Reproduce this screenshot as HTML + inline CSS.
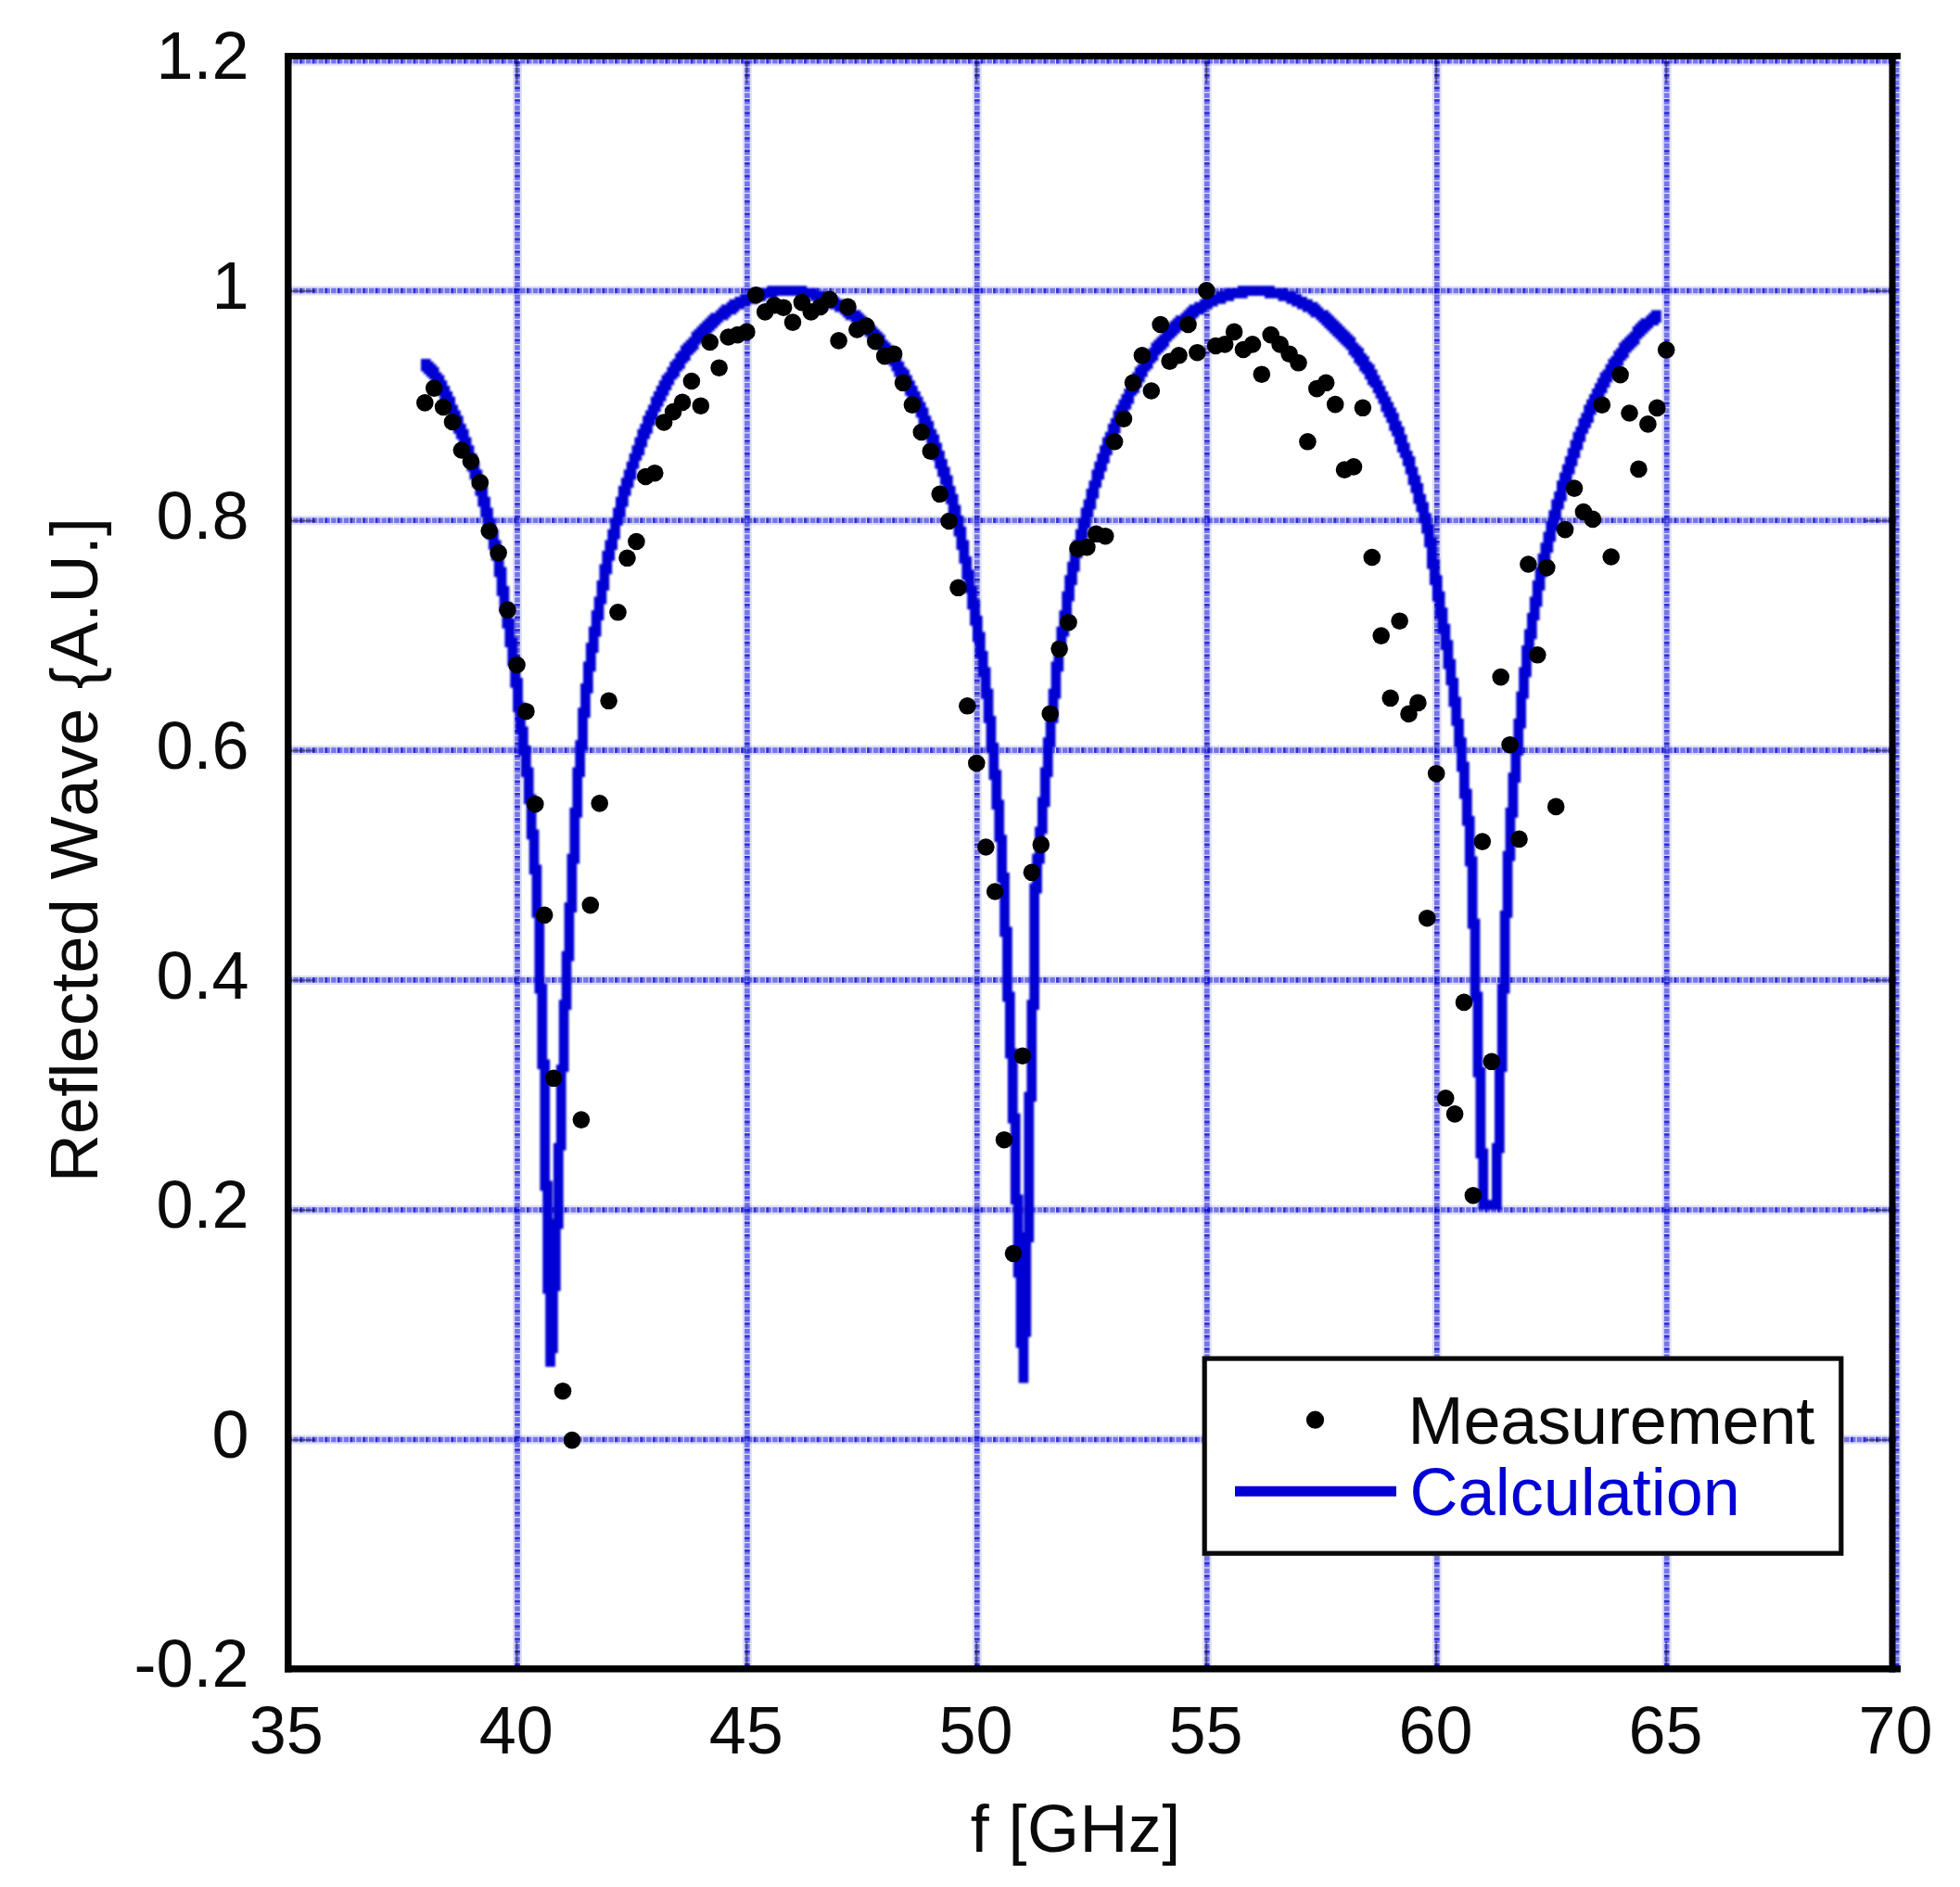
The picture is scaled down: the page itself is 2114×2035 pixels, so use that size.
<!DOCTYPE html>
<html lang="en"><head><meta charset="utf-8"><title>Reflected Wave vs f</title>
<style>html,body{margin:0;padding:0;background:#fff}svg{display:block}text{font-kerning:none;font-family:"Liberation Sans",Arial,sans-serif;font-size:72px;fill:#0a0a0a}</style></head><body>
<svg width="2114" height="2035" viewBox="0 0 2114 2035">
<rect width="2114" height="2035" fill="#fff"/>
<g id="grid" fill="none">
<line x1="558.0" y1="66.2" x2="558.0" y2="1800.5" stroke="#0000d0" stroke-opacity=".13" stroke-width="10"/>
<line x1="558.0" y1="66.2" x2="558.0" y2="1800.5" stroke="#0000d0" stroke-opacity=".47" stroke-width="5.6" stroke-dasharray="5.6 1.2"/>
<line x1="558.0" y1="66.2" x2="558.0" y2="1800.5" stroke="#0000d0" stroke-opacity=".6" stroke-width="5.6" stroke-dasharray="2.6 11"/>
<line x1="805.9" y1="66.2" x2="805.9" y2="1800.5" stroke="#0000d0" stroke-opacity=".13" stroke-width="10"/>
<line x1="805.9" y1="66.2" x2="805.9" y2="1800.5" stroke="#0000d0" stroke-opacity=".47" stroke-width="5.6" stroke-dasharray="5.6 1.2"/>
<line x1="805.9" y1="66.2" x2="805.9" y2="1800.5" stroke="#0000d0" stroke-opacity=".6" stroke-width="5.6" stroke-dasharray="2.6 11"/>
<line x1="1053.8" y1="66.2" x2="1053.8" y2="1800.5" stroke="#0000d0" stroke-opacity=".13" stroke-width="10"/>
<line x1="1053.8" y1="66.2" x2="1053.8" y2="1800.5" stroke="#0000d0" stroke-opacity=".47" stroke-width="5.6" stroke-dasharray="5.6 1.2"/>
<line x1="1053.8" y1="66.2" x2="1053.8" y2="1800.5" stroke="#0000d0" stroke-opacity=".6" stroke-width="5.6" stroke-dasharray="2.6 11"/>
<line x1="1301.8" y1="66.2" x2="1301.8" y2="1800.5" stroke="#0000d0" stroke-opacity=".13" stroke-width="10"/>
<line x1="1301.8" y1="66.2" x2="1301.8" y2="1800.5" stroke="#0000d0" stroke-opacity=".47" stroke-width="5.6" stroke-dasharray="5.6 1.2"/>
<line x1="1301.8" y1="66.2" x2="1301.8" y2="1800.5" stroke="#0000d0" stroke-opacity=".6" stroke-width="5.6" stroke-dasharray="2.6 11"/>
<line x1="1549.8" y1="66.2" x2="1549.8" y2="1800.5" stroke="#0000d0" stroke-opacity=".13" stroke-width="10"/>
<line x1="1549.8" y1="66.2" x2="1549.8" y2="1800.5" stroke="#0000d0" stroke-opacity=".47" stroke-width="5.6" stroke-dasharray="5.6 1.2"/>
<line x1="1549.8" y1="66.2" x2="1549.8" y2="1800.5" stroke="#0000d0" stroke-opacity=".6" stroke-width="5.6" stroke-dasharray="2.6 11"/>
<line x1="1797.7" y1="66.2" x2="1797.7" y2="1800.5" stroke="#0000d0" stroke-opacity=".13" stroke-width="10"/>
<line x1="1797.7" y1="66.2" x2="1797.7" y2="1800.5" stroke="#0000d0" stroke-opacity=".47" stroke-width="5.6" stroke-dasharray="5.6 1.2"/>
<line x1="1797.7" y1="66.2" x2="1797.7" y2="1800.5" stroke="#0000d0" stroke-opacity=".6" stroke-width="5.6" stroke-dasharray="2.6 11"/>
<line x1="2045.7" y1="66.2" x2="2045.7" y2="1800.5" stroke="#0000d0" stroke-opacity=".13" stroke-width="10"/>
<line x1="2045.7" y1="66.2" x2="2045.7" y2="1800.5" stroke="#0000d0" stroke-opacity=".47" stroke-width="5.6" stroke-dasharray="5.6 1.2"/>
<line x1="2045.7" y1="66.2" x2="2045.7" y2="1800.5" stroke="#0000d0" stroke-opacity=".6" stroke-width="5.6" stroke-dasharray="2.6 11"/>
<line x1="309.5" y1="65.7" x2="2045.5" y2="65.7" stroke="#0000d0" stroke-opacity=".13" stroke-width="10"/>
<line x1="309.5" y1="65.7" x2="2045.5" y2="65.7" stroke="#0000d0" stroke-opacity=".47" stroke-width="5.6" stroke-dasharray="5.6 1.2"/>
<line x1="309.5" y1="65.7" x2="2045.5" y2="65.7" stroke="#0000d0" stroke-opacity=".6" stroke-width="5.6" stroke-dasharray="2.6 11"/>
<line x1="309.5" y1="313.5" x2="2045.5" y2="313.5" stroke="#0000d0" stroke-opacity=".13" stroke-width="10"/>
<line x1="309.5" y1="313.5" x2="2045.5" y2="313.5" stroke="#0000d0" stroke-opacity=".47" stroke-width="5.6" stroke-dasharray="5.6 1.2"/>
<line x1="309.5" y1="313.5" x2="2045.5" y2="313.5" stroke="#0000d0" stroke-opacity=".6" stroke-width="5.6" stroke-dasharray="2.6 11"/>
<line x1="309.5" y1="561.3" x2="2045.5" y2="561.3" stroke="#0000d0" stroke-opacity=".13" stroke-width="10"/>
<line x1="309.5" y1="561.3" x2="2045.5" y2="561.3" stroke="#0000d0" stroke-opacity=".47" stroke-width="5.6" stroke-dasharray="5.6 1.2"/>
<line x1="309.5" y1="561.3" x2="2045.5" y2="561.3" stroke="#0000d0" stroke-opacity=".6" stroke-width="5.6" stroke-dasharray="2.6 11"/>
<line x1="309.5" y1="809.1" x2="2045.5" y2="809.1" stroke="#0000d0" stroke-opacity=".13" stroke-width="10"/>
<line x1="309.5" y1="809.1" x2="2045.5" y2="809.1" stroke="#0000d0" stroke-opacity=".47" stroke-width="5.6" stroke-dasharray="5.6 1.2"/>
<line x1="309.5" y1="809.1" x2="2045.5" y2="809.1" stroke="#0000d0" stroke-opacity=".6" stroke-width="5.6" stroke-dasharray="2.6 11"/>
<line x1="309.5" y1="1056.9" x2="2045.5" y2="1056.9" stroke="#0000d0" stroke-opacity=".13" stroke-width="10"/>
<line x1="309.5" y1="1056.9" x2="2045.5" y2="1056.9" stroke="#0000d0" stroke-opacity=".47" stroke-width="5.6" stroke-dasharray="5.6 1.2"/>
<line x1="309.5" y1="1056.9" x2="2045.5" y2="1056.9" stroke="#0000d0" stroke-opacity=".6" stroke-width="5.6" stroke-dasharray="2.6 11"/>
<line x1="309.5" y1="1304.7" x2="2045.5" y2="1304.7" stroke="#0000d0" stroke-opacity=".13" stroke-width="10"/>
<line x1="309.5" y1="1304.7" x2="2045.5" y2="1304.7" stroke="#0000d0" stroke-opacity=".47" stroke-width="5.6" stroke-dasharray="5.6 1.2"/>
<line x1="309.5" y1="1304.7" x2="2045.5" y2="1304.7" stroke="#0000d0" stroke-opacity=".6" stroke-width="5.6" stroke-dasharray="2.6 11"/>
<line x1="309.5" y1="1552.5" x2="2045.5" y2="1552.5" stroke="#0000d0" stroke-opacity=".13" stroke-width="10"/>
<line x1="309.5" y1="1552.5" x2="2045.5" y2="1552.5" stroke="#0000d0" stroke-opacity=".47" stroke-width="5.6" stroke-dasharray="5.6 1.2"/>
<line x1="309.5" y1="1552.5" x2="2045.5" y2="1552.5" stroke="#0000d0" stroke-opacity=".6" stroke-width="5.6" stroke-dasharray="2.6 11"/>
</g>
<g id="ticks" stroke="#101030" stroke-width="2" stroke-opacity=".5">
<line x1="314" y1="313.9" x2="340" y2="313.9"/>
<line x1="2012" y1="313.9" x2="2038" y2="313.9"/>
<line x1="314" y1="561.7" x2="340" y2="561.7"/>
<line x1="2012" y1="561.7" x2="2038" y2="561.7"/>
<line x1="314" y1="809.5" x2="340" y2="809.5"/>
<line x1="2012" y1="809.5" x2="2038" y2="809.5"/>
<line x1="314" y1="1057.3" x2="340" y2="1057.3"/>
<line x1="2012" y1="1057.3" x2="2038" y2="1057.3"/>
<line x1="314" y1="1305.1" x2="340" y2="1305.1"/>
<line x1="2012" y1="1305.1" x2="2038" y2="1305.1"/>
<line x1="314" y1="1552.9" x2="340" y2="1552.9"/>
<line x1="2012" y1="1552.9" x2="2038" y2="1552.9"/>
<line x1="557.5" y1="64" x2="557.5" y2="90"/>
<line x1="557.5" y1="1770" x2="557.5" y2="1796"/>
<line x1="805.4" y1="64" x2="805.4" y2="90"/>
<line x1="805.4" y1="1770" x2="805.4" y2="1796"/>
<line x1="1053.3" y1="64" x2="1053.3" y2="90"/>
<line x1="1053.3" y1="1770" x2="1053.3" y2="1796"/>
<line x1="1301.3" y1="64" x2="1301.3" y2="90"/>
<line x1="1301.3" y1="1770" x2="1301.3" y2="1796"/>
<line x1="1549.2" y1="64" x2="1549.2" y2="90"/>
<line x1="1549.2" y1="1770" x2="1549.2" y2="1796"/>
<line x1="1797.2" y1="64" x2="1797.2" y2="90"/>
<line x1="1797.2" y1="1770" x2="1797.2" y2="1796"/>
</g>
<defs><filter id="soft" x="-2%" y="-2%" width="104%" height="104%"><feGaussianBlur stdDeviation="0.8"/></filter></defs>
<path id="calc" d="M462.8 409.3L465.7 409.3L465.7 415.2L468.6 415.2L468.6 421.0L471.5 421.0L471.5 426.8L474.4 426.8L474.4 432.7L477.4 432.7L477.4 438.5L480.3 438.5L480.3 444.3L483.2 444.3L483.2 453.1L486.1 453.1L486.1 458.9L489.0 458.9L489.0 467.6L491.9 467.7L491.9 473.5L494.9 473.5L494.9 482.2L497.8 482.2L497.8 491.0L500.7 491.0L500.7 496.8L503.6 496.8L503.6 508.5L506.5 508.5L506.5 517.2L509.4 517.2L509.4 526.0L512.4 526.0L512.4 534.7L515.3 534.7L515.3 546.4L518.2 546.4L518.2 558.1L521.1 558.1L521.1 569.7L524.0 569.7L524.0 581.4L526.9 581.4L526.9 593.1L529.9 593.1L529.9 604.7L532.8 604.7L532.8 622.2L535.7 622.2L535.7 642.7L538.6 642.7L538.6 660.2L541.5 660.2L541.5 677.7L544.4 677.7L544.4 698.1L547.4 698.1L547.4 718.5L550.3 718.5L550.3 741.8L553.2 741.8L553.2 768.1L556.1 768.1L556.1 791.4L559.0 791.4L559.0 814.7L561.9 814.7L561.9 838.1L564.9 838.1L564.9 867.2L567.8 867.2L567.8 905.2L570.7 905.2L570.7 943.1L573.6 943.1L573.6 989.7L576.5 989.7L576.5 1071.4L579.4 1071.4L579.4 1153.1L582.4 1153.1L582.4 1284.3L585.3 1284.3L585.3 1395.2L588.2 1395.2L588.2 1473.9L598.9 1473.9L598.9 1459.3L601.8 1459.3L601.8 1392.3L604.7 1392.2L604.7 1325.2L607.7 1325.2L607.7 1240.6L610.6 1240.6L610.6 1156.0L613.5 1156.0L613.5 1088.9L616.4 1088.9L616.4 1036.4L619.3 1036.4L619.3 983.9L622.2 983.9L622.2 931.4L625.2 931.4L625.2 881.8L628.1 881.8L628.1 838.1L631.0 838.1L631.0 808.9L633.9 808.9L633.9 773.9L636.8 773.9L636.8 747.7L639.7 747.7L639.7 724.3L642.7 724.3L642.7 703.9L645.6 703.9L645.6 686.4L648.5 686.4L648.5 668.9L651.4 668.9L651.4 651.4L654.3 651.4L654.3 636.8L657.2 636.8L657.2 619.3L660.2 619.3L660.2 604.7L663.1 604.7L663.1 593.1L666.0 593.1L666.0 581.4L668.9 581.4L668.9 566.8L671.8 566.8L671.8 558.1L674.7 558.1L674.7 546.4L677.7 546.4L677.7 534.7L680.6 534.7L680.6 526.0L683.5 526.0L683.5 517.2L686.4 517.2L686.4 505.6L689.3 505.6L689.3 496.8L692.2 496.8L692.2 491.0L695.2 491.0L695.2 482.2L698.1 482.2L698.1 473.5L701.0 473.5L701.0 467.7L703.9 467.7L703.9 458.9L706.8 458.9L706.8 453.1L709.7 453.1L709.7 444.3L712.7 444.3L712.7 438.5L715.6 438.5L715.6 432.7L718.5 432.7L718.5 426.8L721.4 426.8L721.4 421.0L724.3 421.0L724.3 415.2L727.2 415.2L727.2 409.3L730.2 409.3L730.2 406.4L733.1 406.4L733.1 400.6L736.0 400.6L736.0 397.7L738.9 397.7L738.9 391.8L741.8 391.8L741.8 388.9L744.7 388.9L744.7 383.1L747.7 383.1L747.7 380.2L750.6 380.2L750.6 377.2L753.5 377.2L753.5 371.4L756.4 371.4L756.4 368.5L759.3 368.5L759.3 365.6L762.2 365.6L762.2 362.7L765.2 362.7L765.2 359.7L768.1 359.7L768.1 356.8L771.0 356.8L771.0 353.9L773.9 353.9L773.9 351.0L776.8 351.0L776.8 348.1L779.7 348.1L779.7 345.2L785.6 345.2L785.6 342.2L788.5 342.2L788.5 339.3L794.3 339.3L794.3 336.4L797.2 336.4L797.2 333.5L803.1 333.5L803.1 330.6L808.9 330.6L808.9 327.7L817.7 327.7L817.7 324.7L826.4 324.7L826.4 321.8L838.1 321.8L838.1 318.9L859.4 318.9L859.4 321.8L874.0 321.8L874.0 324.7L882.8 324.7L882.8 327.7L888.6 327.7L888.6 330.6L894.4 330.6L894.4 333.5L900.3 333.5L900.3 336.4L906.1 336.4L906.1 339.3L909.0 339.3L909.0 342.2L911.9 342.2L911.9 345.2L917.8 345.2L917.8 348.1L920.7 348.1L920.7 351.0L923.6 351.0L923.6 353.9L926.5 353.9L926.5 356.8L929.4 356.8L929.4 359.7L932.4 359.7L932.4 362.7L935.3 362.7L935.3 365.6L938.2 365.6L938.2 368.5L941.1 368.5L941.1 371.4L944.0 371.4L944.0 374.3L946.9 374.3L946.9 380.2L949.9 380.2L949.9 383.1L952.8 383.1L952.8 386.0L955.7 386.0L955.7 391.8L958.6 391.8L958.6 394.7L961.5 394.7L961.5 400.6L964.4 400.6L964.4 406.4L967.4 406.4L967.4 409.3L970.3 409.3L970.3 415.2L973.2 415.2L973.2 421.0L976.1 421.0L976.1 426.8L979.0 426.8L979.0 432.6L981.9 432.7L981.9 438.5L984.9 438.5L984.9 444.3L987.8 444.3L987.8 450.2L990.7 450.2L990.7 458.9L993.6 458.9L993.6 464.7L996.5 464.7L996.5 473.5L999.4 473.5L999.4 479.3L1002.4 479.3L1002.4 488.1L1005.3 488.1L1005.3 496.8L1008.2 496.8L1008.2 505.6L1011.1 505.6L1011.1 514.3L1014.0 514.3L1014.0 523.1L1016.9 523.1L1016.9 534.7L1019.9 534.7L1019.9 543.5L1022.8 543.5L1022.8 555.2L1025.7 555.2L1025.7 563.9L1028.6 563.9L1028.6 578.5L1031.5 578.5L1031.5 593.1L1034.4 593.1L1034.4 607.7L1037.4 607.7L1037.4 625.2L1040.3 625.2L1040.3 639.7L1043.2 639.7L1043.2 657.2L1046.1 657.2L1046.1 674.7L1049.0 674.7L1049.0 692.2L1051.9 692.2L1051.9 709.7L1054.9 709.7L1054.9 730.2L1057.8 730.2L1057.8 753.5L1060.7 753.5L1060.7 779.7L1063.6 779.7L1063.6 811.8L1066.5 811.8L1066.5 841.0L1069.4 841.0L1069.4 873.1L1072.4 873.1L1072.4 908.1L1075.3 908.1L1075.3 951.8L1078.2 951.8L1078.2 1010.2L1081.1 1010.2L1081.1 1080.2L1084.0 1080.2L1084.0 1141.4L1086.9 1141.4L1086.9 1211.4L1089.9 1211.4L1089.9 1298.9L1092.8 1298.9L1092.8 1377.7L1095.7 1377.7L1095.7 1453.5L1098.6 1453.5L1098.6 1491.4L1109.3 1491.4L1109.3 1441.8L1112.2 1441.8L1112.2 1339.8L1115.2 1339.7L1115.2 1188.1L1118.1 1188.1L1118.1 1088.9L1121.0 1088.9L1121.0 963.5L1123.9 963.5L1123.9 931.4L1126.8 931.4L1126.8 899.3L1129.7 899.3L1129.7 870.2L1132.7 870.2L1132.7 838.1L1135.6 838.1L1135.6 806.0L1138.5 806.0L1138.5 779.7L1141.4 779.7L1141.4 753.5L1144.3 753.5L1144.3 724.3L1147.2 724.3L1147.2 703.9L1150.2 703.9L1150.2 686.4L1153.1 686.4L1153.1 666.0L1156.0 666.0L1156.0 648.5L1158.9 648.5L1158.9 631.0L1161.8 631.0L1161.8 616.4L1164.7 616.4L1164.7 601.8L1167.7 601.8L1167.7 593.1L1170.6 593.1L1170.6 581.4L1173.5 581.4L1173.5 569.7L1176.4 569.7L1176.4 558.1L1179.3 558.1L1179.3 549.3L1182.2 549.3L1182.2 537.7L1185.2 537.6L1185.2 526.0L1188.1 526.0L1188.1 517.2L1191.0 517.2L1191.0 508.5L1193.9 508.5L1193.9 499.7L1196.8 499.7L1196.8 491.0L1199.7 491.0L1199.7 482.2L1202.7 482.2L1202.7 476.4L1205.6 476.4L1205.6 467.7L1208.5 467.6L1208.5 458.9L1211.4 458.9L1211.4 453.1L1214.3 453.1L1214.3 447.2L1217.2 447.2L1217.2 441.4L1220.2 441.4L1220.2 435.6L1223.1 435.6L1223.1 426.8L1226.0 426.8L1226.0 423.9L1228.9 423.9L1228.9 418.1L1231.8 418.1L1231.8 412.2L1234.7 412.2L1234.7 406.4L1237.7 406.4L1237.7 400.6L1240.6 400.6L1240.6 397.7L1243.5 397.7L1243.5 391.8L1246.4 391.8L1246.4 388.9L1249.3 388.9L1249.3 383.1L1252.2 383.1L1252.2 380.2L1255.2 380.2L1255.2 377.2L1258.1 377.2L1258.1 374.3L1261.0 374.3L1261.0 368.5L1263.9 368.5L1263.9 365.6L1266.8 365.6L1266.8 362.7L1269.7 362.7L1269.7 359.7L1272.7 359.7L1272.7 356.8L1275.6 356.8L1275.6 353.9L1278.5 353.9L1278.5 351.0L1281.4 351.0L1281.4 348.1L1287.2 348.1L1287.2 345.2L1290.2 345.2L1290.2 342.2L1293.1 342.2L1293.1 339.3L1298.9 339.3L1298.9 336.4L1301.8 336.4L1301.8 333.5L1307.7 333.5L1307.7 330.6L1313.5 330.6L1313.5 327.7L1322.2 327.7L1322.3 324.7L1331.0 324.7L1331.0 321.8L1345.6 321.8L1345.6 318.9L1364.0 318.9L1364.0 321.8L1378.6 321.8L1378.6 324.7L1387.4 324.7L1387.4 327.7L1393.2 327.7L1393.2 330.6L1399.0 330.6L1399.0 333.5L1404.9 333.5L1404.9 336.4L1410.7 336.4L1410.7 339.3L1413.6 339.3L1413.6 342.2L1419.4 342.2L1419.4 345.2L1422.4 345.2L1422.4 348.1L1425.3 348.1L1425.3 351.0L1428.2 351.0L1428.2 353.9L1431.1 353.9L1431.1 356.8L1434.0 356.8L1434.0 359.7L1436.9 359.7L1437.0 362.7L1439.9 362.7L1439.9 365.6L1442.8 365.6L1442.8 368.5L1445.7 368.5L1445.7 371.4L1448.6 371.4L1448.6 374.3L1451.5 374.3L1451.5 377.2L1454.4 377.2L1454.5 383.1L1457.4 383.1L1457.4 386.0L1460.3 386.0L1460.3 391.8L1463.2 391.8L1463.2 394.7L1466.1 394.7L1466.1 400.6L1469.0 400.6L1469.0 403.5L1471.9 403.5L1471.9 409.3L1474.9 409.3L1474.9 415.2L1477.8 415.2L1477.8 418.1L1480.7 418.1L1480.7 423.9L1483.6 423.9L1483.6 429.7L1486.5 429.7L1486.5 435.6L1489.4 435.6L1489.4 444.3L1492.4 444.3L1492.4 450.1L1495.3 450.2L1495.3 456.0L1498.2 456.0L1498.2 464.7L1501.1 464.7L1501.1 470.6L1504.0 470.6L1504.0 479.3L1506.9 479.3L1506.9 488.1L1509.9 488.1L1509.9 493.9L1512.8 493.9L1512.8 502.6L1515.7 502.7L1515.7 511.4L1518.6 511.4L1518.6 523.1L1521.5 523.1L1521.5 531.8L1524.4 531.8L1524.4 543.5L1527.4 543.5L1527.4 552.2L1530.3 552.2L1530.3 563.9L1533.2 563.9L1533.2 575.6L1536.1 575.6L1536.1 590.2L1539.0 590.2L1539.0 613.5L1541.9 613.5L1541.9 631.0L1544.9 631.0L1544.9 648.5L1547.8 648.5L1547.8 666.0L1550.7 666.0L1550.7 683.5L1553.6 683.5L1553.6 701.0L1556.5 701.0L1556.5 721.4L1559.4 721.4L1559.4 738.9L1562.4 738.9L1562.4 762.2L1565.3 762.2L1565.3 782.7L1568.2 782.7L1568.2 806.0L1571.1 806.0L1571.1 832.2L1574.0 832.2L1574.0 861.4L1576.9 861.4L1576.9 890.6L1579.9 890.6L1579.9 934.3L1582.8 934.3L1582.8 1001.4L1585.7 1001.4L1585.7 1080.2L1588.6 1080.2L1588.6 1161.8L1591.5 1161.8L1591.5 1249.3L1594.4 1249.3L1594.4 1304.7L1619.8 1304.7L1619.8 1243.5L1622.7 1243.5L1622.7 1156.0L1625.6 1156.0L1625.6 1071.4L1628.5 1071.4L1628.5 989.7L1631.4 989.7L1631.4 928.5L1634.3 928.5L1634.3 881.8L1637.3 881.8L1637.3 843.9L1640.2 843.9L1640.2 814.7L1643.1 814.7L1643.1 785.6L1646.0 785.6L1646.0 753.5L1648.9 753.5L1648.9 730.2L1651.8 730.2L1651.8 706.8L1654.8 706.8L1654.8 689.3L1657.7 689.3L1657.7 668.9L1660.6 668.9L1660.6 654.3L1663.5 654.3L1663.5 636.8L1666.4 636.8L1666.4 622.2L1669.3 622.2L1669.3 607.7L1672.3 607.7L1672.3 596.0L1675.2 596.0L1675.2 584.3L1678.1 584.3L1678.1 572.7L1681.0 572.7L1681.0 561.0L1683.9 561.0L1683.9 549.3L1686.8 549.3L1686.8 540.6L1689.8 540.6L1689.8 528.9L1692.7 528.9L1692.7 520.2L1695.6 520.2L1695.6 511.4L1698.5 511.4L1698.5 502.7L1701.4 502.7L1701.4 493.9L1704.3 493.9L1704.3 485.2L1707.3 485.2L1707.3 476.4L1710.2 476.4L1710.2 467.7L1713.1 467.7L1713.1 461.8L1716.0 461.8L1716.0 456.0L1718.9 456.0L1718.9 447.2L1721.8 447.2L1721.8 441.4L1724.8 441.4L1724.8 435.6L1727.7 435.6L1727.7 429.7L1730.6 429.7L1730.6 423.9L1733.5 423.9L1733.5 418.1L1736.4 418.1L1736.4 412.2L1739.3 412.2L1739.3 406.4L1742.2 406.4L1742.3 403.5L1745.2 403.5L1745.2 397.7L1748.1 397.7L1748.1 394.7L1751.0 394.7L1751.0 388.9L1753.9 388.9L1753.9 386.0L1756.8 386.0L1756.8 380.2L1759.8 380.2L1759.8 377.2L1762.7 377.2L1762.7 374.3L1765.6 374.3L1765.6 371.4L1768.5 371.4L1768.5 365.6L1771.4 365.6L1771.4 362.7L1774.3 362.7L1774.3 359.7L1777.3 359.7L1777.3 356.8L1780.2 356.8L1780.2 353.9L1783.1 353.9L1783.1 351.0L1788.9 351.0L1788.9 348.1L1791.8 348.1L1791.8 334.4L1781.1 334.4L1781.1 337.4L1778.2 337.4L1778.2 340.3L1775.3 340.3L1775.3 343.2L1769.5 343.2L1769.5 346.1L1766.5 346.1L1766.5 349.0L1763.6 349.0L1763.6 351.9L1760.7 351.9L1760.7 357.8L1757.8 357.8L1757.8 360.7L1754.9 360.7L1754.9 363.6L1752.0 363.6L1752.0 366.5L1749.0 366.5L1749.0 369.4L1746.1 369.4L1746.1 375.3L1743.2 375.3L1743.2 378.2L1740.3 378.2L1740.3 384.0L1737.4 384.0L1737.4 386.9L1734.5 386.9L1734.5 392.8L1731.5 392.8L1731.5 398.6L1728.6 398.6L1728.6 401.5L1725.7 401.5L1725.7 407.4L1722.8 407.4L1722.8 413.2L1719.9 413.2L1719.9 419.0L1717.0 419.0L1717.0 424.9L1714.0 424.9L1714.0 430.7L1711.1 430.7L1711.1 436.5L1708.2 436.5L1708.2 445.3L1705.3 445.3L1705.3 451.1L1702.4 451.1L1702.4 459.9L1699.5 459.9L1699.5 465.7L1696.5 465.7L1696.5 474.4L1693.6 474.4L1693.6 483.2L1690.7 483.2L1690.7 491.9L1687.8 491.9L1687.8 500.7L1684.9 500.7L1684.9 509.4L1682.0 509.4L1682.0 518.2L1679.0 518.2L1679.0 529.9L1676.1 529.9L1676.1 538.6L1673.2 538.6L1673.2 550.3L1670.3 550.3L1670.3 561.9L1667.4 561.9L1667.4 573.6L1664.5 573.6L1664.5 585.3L1661.5 585.3L1661.5 596.9L1658.6 596.9L1658.6 611.5L1655.7 611.5L1655.7 626.1L1652.8 626.1L1652.8 643.6L1649.9 643.6L1649.9 661.1L1647.0 661.1L1647.0 678.6L1644.0 678.6L1644.0 696.1L1641.1 696.1L1641.1 719.4L1638.2 719.4L1638.2 745.7L1635.3 745.7L1635.3 774.9L1632.4 774.9L1632.4 804.0L1629.5 804.0L1629.5 833.2L1626.5 833.2L1626.5 871.1L1623.6 871.1L1623.6 917.8L1620.7 917.8L1620.7 981.9L1617.8 982.0L1617.8 1060.7L1614.9 1060.7L1614.9 1148.2L1612.0 1148.2L1612.0 1232.8L1609.0 1232.8L1609.0 1294.0L1605.2 1294.0L1605.2 1238.6L1602.3 1238.6L1602.3 1151.1L1599.3 1151.1L1599.3 1069.5L1596.4 1069.4L1596.4 990.7L1593.5 990.7L1593.5 923.6L1590.6 923.6L1590.6 879.9L1587.7 879.9L1587.7 850.7L1584.8 850.7L1584.8 821.5L1581.8 821.5L1581.8 795.3L1578.9 795.3L1578.9 774.9L1576.0 774.9L1576.0 751.5L1573.1 751.5L1573.1 731.1L1570.2 731.1L1570.2 710.7L1567.3 710.7L1567.3 690.3L1564.3 690.3L1564.3 672.8L1561.4 672.8L1561.4 655.3L1558.5 655.3L1558.5 637.8L1555.6 637.8L1555.6 620.3L1552.7 620.3L1552.7 602.8L1549.8 602.8L1549.8 579.4L1546.8 579.4L1546.8 564.9L1543.9 564.9L1543.9 553.2L1541.0 553.2L1541.0 541.5L1538.1 541.5L1538.1 532.8L1535.2 532.8L1535.2 521.1L1532.3 521.1L1532.3 512.4L1529.3 512.4L1529.3 503.6L1526.4 503.6L1526.4 491.9L1523.5 491.9L1523.5 486.1L1520.6 486.1L1520.6 477.4L1517.7 477.4L1517.7 468.6L1514.8 468.6L1514.8 459.9L1511.8 459.9L1511.8 454.0L1508.9 454.0L1508.9 445.3L1506.0 445.3L1506.0 439.4L1503.1 439.4L1503.1 433.6L1500.2 433.6L1500.2 427.8L1497.3 427.8L1497.2 421.9L1494.3 421.9L1494.3 416.1L1491.4 416.1L1491.4 410.3L1488.5 410.3L1488.5 404.4L1485.6 404.4L1485.6 398.6L1482.7 398.6L1482.7 392.8L1479.8 392.8L1479.7 389.9L1476.8 389.9L1476.8 384.0L1473.9 384.0L1473.9 381.1L1471.0 381.1L1471.0 375.3L1468.1 375.3L1468.1 372.4L1465.2 372.4L1465.2 369.4L1462.3 369.4L1462.2 363.6L1459.3 363.6L1459.3 360.7L1456.4 360.7L1456.4 357.8L1453.5 357.8L1453.5 354.9L1450.6 354.9L1450.6 351.9L1447.7 351.9L1447.7 349.0L1444.8 349.0L1444.7 346.1L1441.8 346.1L1441.8 343.2L1438.9 343.2L1438.9 340.3L1436.0 340.3L1436.0 337.4L1433.1 337.4L1433.1 334.4L1427.3 334.4L1427.2 331.5L1424.3 331.5L1424.3 328.6L1421.4 328.6L1421.4 325.7L1415.6 325.7L1415.6 322.8L1409.8 322.8L1409.7 319.9L1403.9 319.9L1403.9 316.9L1398.1 316.9L1398.1 314.0L1389.3 314.0L1389.3 311.1L1374.8 311.1L1374.7 308.2L1334.9 308.2L1334.9 311.1L1320.3 311.1L1320.3 314.0L1311.5 314.0L1311.5 316.9L1302.8 316.9L1302.8 319.9L1296.9 319.9L1296.9 322.8L1294.0 322.8L1294.0 325.7L1288.2 325.7L1288.2 328.6L1282.4 328.6L1282.4 331.5L1279.5 331.5L1279.4 334.4L1276.5 334.4L1276.5 337.4L1273.6 337.4L1273.6 340.3L1267.8 340.3L1267.8 343.2L1264.9 343.2L1264.9 346.1L1261.9 346.1L1261.9 349.0L1259.0 349.0L1259.0 351.9L1256.1 351.9L1256.1 354.9L1253.2 354.9L1253.2 360.7L1250.3 360.7L1250.3 363.6L1247.4 363.6L1247.4 366.5L1244.4 366.5L1244.4 369.4L1241.5 369.4L1241.5 375.3L1238.6 375.3L1238.6 378.2L1235.7 378.2L1235.7 381.1L1232.8 381.1L1232.8 386.9L1229.9 386.9L1229.9 392.8L1227.0 392.8L1226.9 395.7L1224.0 395.7L1224.0 401.5L1221.1 401.5L1221.1 407.4L1218.2 407.4L1218.2 413.2L1215.3 413.2L1215.3 419.0L1212.4 419.0L1212.4 424.9L1209.4 424.9L1209.4 430.7L1206.5 430.7L1206.5 436.5L1203.6 436.5L1203.6 442.4L1200.7 442.4L1200.7 451.1L1197.8 451.1L1197.8 456.9L1194.9 456.9L1194.9 465.7L1191.9 465.7L1191.9 471.5L1189.0 471.5L1189.0 480.3L1186.1 480.3L1186.1 489.0L1183.2 489.0L1183.2 497.8L1180.3 497.8L1180.3 506.5L1177.4 506.5L1177.4 518.2L1174.4 518.2L1174.4 526.9L1171.5 526.9L1171.5 538.6L1168.6 538.6L1168.6 547.4L1165.7 547.4L1165.7 559.0L1162.8 559.0L1162.8 570.7L1159.9 570.7L1159.9 582.4L1156.9 582.4L1156.9 594.0L1154.0 594.0L1154.0 605.7L1151.1 605.7L1151.1 620.3L1148.2 620.3L1148.2 637.8L1145.3 637.8L1145.3 658.2L1142.4 658.2L1142.4 675.7L1139.4 675.7L1139.4 693.2L1136.5 693.2L1136.5 713.6L1133.6 713.6L1133.6 742.8L1130.7 742.8L1130.7 769.0L1127.8 769.0L1127.8 795.3L1124.9 795.3L1124.9 827.4L1121.9 827.4L1121.9 859.4L1119.0 859.5L1119.0 891.5L1116.1 891.5L1116.1 920.7L1113.2 920.7L1113.2 952.8L1110.3 952.8L1110.3 1078.2L1107.4 1078.2L1107.4 1177.4L1104.4 1177.4L1104.4 1329.0L1103.5 1329.0L1103.5 1288.2L1100.6 1288.2L1100.6 1200.7L1097.7 1200.7L1097.7 1130.7L1094.7 1130.7L1094.7 1069.5L1091.8 1069.4L1091.8 999.5L1088.9 999.4L1088.9 941.1L1086.0 941.1L1086.0 900.3L1083.1 900.3L1083.1 862.4L1080.2 862.4L1080.2 830.3L1077.2 830.3L1077.2 801.1L1074.3 801.1L1074.3 771.9L1071.4 771.9L1071.4 742.8L1068.5 742.8L1068.5 719.4L1065.6 719.4L1065.6 701.9L1062.7 701.9L1062.7 681.5L1059.7 681.5L1059.7 664.0L1056.8 664.0L1056.8 646.5L1053.9 646.5L1053.9 631.9L1051.0 631.9L1051.0 614.4L1048.1 614.4L1048.1 599.9L1045.2 599.9L1045.2 582.4L1042.2 582.4L1042.2 567.8L1039.3 567.8L1039.3 556.1L1036.4 556.1L1036.4 544.4L1033.5 544.4L1033.5 532.8L1030.6 532.8L1030.6 524.0L1027.7 524.0L1027.7 512.4L1024.7 512.4L1024.7 503.6L1021.8 503.6L1021.8 494.9L1018.9 494.9L1018.9 486.1L1016.0 486.1L1016.0 477.4L1013.1 477.4L1013.1 468.6L1010.2 468.6L1010.2 462.8L1007.2 462.8L1007.2 454.0L1004.3 454.0L1004.3 448.2L1001.4 448.2L1001.4 439.4L998.5 439.4L998.5 433.6L995.6 433.6L995.6 427.8L992.7 427.8L992.7 421.9L989.7 421.9L989.7 416.1L986.8 416.1L986.8 410.3L983.9 410.3L983.9 404.4L981.0 404.4L981.0 398.6L978.1 398.6L978.1 395.7L975.2 395.7L975.2 389.9L972.2 389.9L972.2 384.0L969.3 384.0L969.3 381.1L966.4 381.1L966.4 378.2L963.5 378.2L963.5 372.4L960.6 372.4L960.6 369.4L957.7 369.4L957.7 366.5L954.7 366.5L954.7 360.7L951.8 360.7L951.8 357.8L948.9 357.8L948.9 354.9L946.0 354.9L946.0 351.9L943.1 351.9L943.1 349.0L940.2 349.0L940.2 346.1L937.2 346.1L937.2 343.2L934.3 343.2L934.3 340.3L931.4 340.3L931.4 337.4L928.5 337.4L928.5 334.4L922.7 334.4L922.7 331.5L919.7 331.5L919.7 328.6L913.9 328.6L913.9 325.7L911.0 325.7L911.0 322.8L905.2 322.8L905.2 319.9L899.3 319.9L899.3 316.9L890.6 316.9L890.6 314.0L881.8 314.0L881.8 311.1L870.2 311.1L870.2 308.2L827.4 308.2L827.4 311.1L815.7 311.1L815.7 314.0L806.9 314.0L806.9 316.9L798.2 316.9L798.2 319.9L792.4 319.9L792.4 322.8L786.5 322.8L786.5 325.7L783.6 325.7L783.6 328.6L777.8 328.6L777.8 331.5L774.9 331.5L774.9 334.4L771.9 334.4L771.9 337.4L766.1 337.4L766.1 340.3L763.2 340.3L763.2 343.2L760.3 343.2L760.3 346.1L757.4 346.1L757.4 349.0L754.4 349.0L754.4 351.9L751.5 351.9L751.5 354.9L748.6 354.9L748.6 357.8L745.7 357.8L745.7 363.6L742.8 363.6L742.8 366.5L739.9 366.5L739.9 369.4L736.9 369.4L736.9 372.4L734.0 372.4L734.0 378.2L731.1 378.2L731.1 381.1L728.2 381.1L728.2 386.9L725.3 386.9L725.3 389.9L722.4 389.9L722.4 395.7L719.4 395.7L719.4 401.5L716.5 401.5L716.5 404.4L713.6 404.4L713.6 410.3L710.7 410.3L710.7 416.1L707.8 416.1L707.8 421.9L704.9 421.9L704.9 427.8L701.9 427.8L701.9 436.5L699.0 436.5L699.0 442.4L696.1 442.4L696.1 448.2L693.2 448.2L693.2 456.9L690.3 456.9L690.3 462.8L687.4 462.8L687.4 471.5L684.4 471.5L684.4 480.3L681.5 480.3L681.5 489.0L678.6 489.0L678.6 497.8L675.7 497.8L675.7 506.5L672.8 506.5L672.8 515.3L669.9 515.3L669.9 524.0L666.9 524.0L666.9 535.7L664.0 535.7L664.0 547.4L661.1 547.4L661.1 559.0L658.2 559.0L658.2 570.7L655.3 570.7L655.3 582.4L652.4 582.4L652.4 594.0L649.4 594.0L649.4 608.6L646.5 608.6L646.5 626.1L643.6 626.1L643.6 643.6L640.7 643.6L640.7 658.2L637.8 658.2L637.8 675.7L634.9 675.7L634.9 693.2L631.9 693.2L631.9 713.6L629.0 713.6L629.0 736.9L626.1 736.9L626.1 763.2L623.2 763.2L623.2 798.2L620.3 798.2L620.3 827.4L617.4 827.4L617.4 871.1L614.4 871.1L614.4 920.7L611.5 920.7L611.5 973.2L608.6 973.2L608.6 1025.7L605.7 1025.7L605.7 1078.2L602.8 1078.2L602.8 1148.2L599.9 1148.2L599.9 1232.8L596.9 1232.8L596.9 1314.4L596.0 1314.4L596.0 1273.6L593.1 1273.6L593.1 1142.4L590.2 1142.4L590.2 1060.7L587.2 1060.7L587.2 982.0L584.3 981.9L584.3 932.4L581.4 932.4L581.4 894.5L578.5 894.4L578.5 856.5L575.6 856.5L575.6 827.4L572.7 827.4L572.7 804.0L569.7 804.0L569.7 783.6L566.8 783.6L566.8 757.4L563.9 757.4L563.9 731.1L561.0 731.1L561.0 707.8L558.1 707.8L558.1 687.4L555.2 687.4L555.2 666.9L552.2 666.9L552.2 649.4L549.3 649.4L549.3 631.9L546.4 631.9L546.4 611.5L543.5 611.5L543.5 594.0L540.6 594.0L540.6 582.4L537.7 582.4L537.7 570.7L534.7 570.7L534.7 559.0L531.8 559.0L531.8 547.4L528.9 547.4L528.9 535.7L526.0 535.7L526.0 524.0L523.1 524.0L523.1 515.3L520.2 515.3L520.2 506.5L517.2 506.5L517.2 497.8L514.3 497.8L514.3 489.0L511.4 489.0L511.4 480.3L508.5 480.3L508.5 471.5L505.6 471.5L505.6 462.8L502.7 462.8L502.7 456.9L499.7 456.9L499.7 448.2L496.8 448.2L496.8 442.4L493.9 442.4L493.9 436.5L491.0 436.5L491.0 427.8L488.1 427.8L488.1 421.9L485.2 421.9L485.2 416.1L482.2 416.1L482.2 410.3L479.3 410.3L479.3 404.4L476.4 404.4L476.4 401.5L473.5 401.5L473.5 395.7L470.6 395.7L470.6 392.8L467.7 392.8L467.7 389.9L464.7 389.9L464.7 386.9L454.0 386.9L454.0 400.6L456.9 400.6L456.9 403.5L459.9 403.5L459.9 406.4L462.8 406.4Z" fill="#0000d4" fill-rule="evenodd" stroke="none" filter="url(#soft)"/>
<g id="meas" fill="#000">
<circle cx="458.3" cy="434.4" r="9.3"/>
<circle cx="468.2" cy="418.6" r="9.3"/>
<circle cx="478.1" cy="439.0" r="9.3"/>
<circle cx="488.0" cy="455.0" r="9.3"/>
<circle cx="497.9" cy="485.5" r="9.3"/>
<circle cx="507.9" cy="497.5" r="9.3"/>
<circle cx="517.8" cy="520.4" r="9.3"/>
<circle cx="527.7" cy="572.5" r="9.3"/>
<circle cx="537.6" cy="596.2" r="9.3"/>
<circle cx="547.5" cy="657.8" r="9.3"/>
<circle cx="557.5" cy="717.0" r="9.3"/>
<circle cx="567.4" cy="767.2" r="9.3"/>
<circle cx="577.3" cy="867.2" r="9.3"/>
<circle cx="587.2" cy="986.8" r="9.3"/>
<circle cx="597.1" cy="1162.8" r="9.3"/>
<circle cx="607.0" cy="1500.2" r="9.3"/>
<circle cx="617.0" cy="1553.1" r="9.3"/>
<circle cx="626.9" cy="1207.6" r="9.3"/>
<circle cx="636.8" cy="976.1" r="9.3"/>
<circle cx="646.7" cy="866.4" r="9.3"/>
<circle cx="656.6" cy="755.8" r="9.3"/>
<circle cx="666.5" cy="660.3" r="9.3"/>
<circle cx="676.5" cy="601.8" r="9.3"/>
<circle cx="686.4" cy="584.0" r="9.3"/>
<circle cx="696.3" cy="514.0" r="9.3"/>
<circle cx="706.2" cy="510.2" r="9.3"/>
<circle cx="716.1" cy="455.5" r="9.3"/>
<circle cx="726.1" cy="444.1" r="9.3"/>
<circle cx="736.0" cy="433.9" r="9.3"/>
<circle cx="745.9" cy="411.0" r="9.3"/>
<circle cx="755.8" cy="437.7" r="9.3"/>
<circle cx="765.7" cy="369.0" r="9.3"/>
<circle cx="775.6" cy="396.7" r="9.3"/>
<circle cx="785.6" cy="363.5" r="9.3"/>
<circle cx="795.5" cy="361.1" r="9.3"/>
<circle cx="805.4" cy="357.9" r="9.3"/>
<circle cx="815.3" cy="318.2" r="9.3"/>
<circle cx="825.2" cy="336.4" r="9.3"/>
<circle cx="835.2" cy="329.3" r="9.3"/>
<circle cx="845.1" cy="331.7" r="9.3"/>
<circle cx="855.0" cy="347.6" r="9.3"/>
<circle cx="864.9" cy="326.1" r="9.3"/>
<circle cx="874.8" cy="336.4" r="9.3"/>
<circle cx="884.7" cy="330.9" r="9.3"/>
<circle cx="894.7" cy="322.9" r="9.3"/>
<circle cx="904.6" cy="367.4" r="9.3"/>
<circle cx="914.5" cy="330.9" r="9.3"/>
<circle cx="924.4" cy="355.5" r="9.3"/>
<circle cx="934.3" cy="351.5" r="9.3"/>
<circle cx="944.3" cy="368.2" r="9.3"/>
<circle cx="954.2" cy="384.1" r="9.3"/>
<circle cx="964.1" cy="381.7" r="9.3"/>
<circle cx="974.0" cy="412.8" r="9.3"/>
<circle cx="983.9" cy="436.6" r="9.3"/>
<circle cx="993.8" cy="466.0" r="9.3"/>
<circle cx="1003.8" cy="486.7" r="9.3"/>
<circle cx="1013.7" cy="532.8" r="9.3"/>
<circle cx="1023.6" cy="562.0" r="9.3"/>
<circle cx="1033.5" cy="633.8" r="9.3"/>
<circle cx="1043.4" cy="761.3" r="9.3"/>
<circle cx="1053.3" cy="823.0" r="9.3"/>
<circle cx="1063.3" cy="913.5" r="9.3"/>
<circle cx="1073.2" cy="961.5" r="9.3"/>
<circle cx="1083.1" cy="1229.2" r="9.3"/>
<circle cx="1093.0" cy="1351.8" r="9.3"/>
<circle cx="1102.9" cy="1138.7" r="9.3"/>
<circle cx="1112.9" cy="940.8" r="9.3"/>
<circle cx="1122.8" cy="910.9" r="9.3"/>
<circle cx="1132.7" cy="769.7" r="9.3"/>
<circle cx="1142.6" cy="699.8" r="9.3"/>
<circle cx="1152.5" cy="671.2" r="9.3"/>
<circle cx="1162.4" cy="591.7" r="9.3"/>
<circle cx="1172.4" cy="590.1" r="9.3"/>
<circle cx="1182.3" cy="575.8" r="9.3"/>
<circle cx="1192.2" cy="578.2" r="9.3"/>
<circle cx="1202.1" cy="476.3" r="9.3"/>
<circle cx="1212.0" cy="451.7" r="9.3"/>
<circle cx="1222.0" cy="412.8" r="9.3"/>
<circle cx="1231.9" cy="383.3" r="9.3"/>
<circle cx="1241.8" cy="421.5" r="9.3"/>
<circle cx="1251.7" cy="350.0" r="9.3"/>
<circle cx="1261.6" cy="389.7" r="9.3"/>
<circle cx="1271.5" cy="383.3" r="9.3"/>
<circle cx="1281.5" cy="350.0" r="9.3"/>
<circle cx="1291.4" cy="380.2" r="9.3"/>
<circle cx="1301.3" cy="313.4" r="9.3"/>
<circle cx="1311.2" cy="373.0" r="9.3"/>
<circle cx="1321.1" cy="371.4" r="9.3"/>
<circle cx="1331.1" cy="357.9" r="9.3"/>
<circle cx="1341.0" cy="377.0" r="9.3"/>
<circle cx="1350.9" cy="371.4" r="9.3"/>
<circle cx="1360.8" cy="403.7" r="9.3"/>
<circle cx="1370.7" cy="361.1" r="9.3"/>
<circle cx="1380.6" cy="371.4" r="9.3"/>
<circle cx="1390.6" cy="381.7" r="9.3"/>
<circle cx="1400.5" cy="391.3" r="9.3"/>
<circle cx="1410.4" cy="476.3" r="9.3"/>
<circle cx="1420.3" cy="419.1" r="9.3"/>
<circle cx="1430.2" cy="412.8" r="9.3"/>
<circle cx="1440.2" cy="436.1" r="9.3"/>
<circle cx="1450.1" cy="506.6" r="9.3"/>
<circle cx="1460.0" cy="503.4" r="9.3"/>
<circle cx="1469.9" cy="439.8" r="9.3"/>
<circle cx="1479.8" cy="601.0" r="9.3"/>
<circle cx="1489.7" cy="685.6" r="9.3"/>
<circle cx="1499.7" cy="752.8" r="9.3"/>
<circle cx="1509.6" cy="669.7" r="9.3"/>
<circle cx="1519.5" cy="769.9" r="9.3"/>
<circle cx="1529.4" cy="757.9" r="9.3"/>
<circle cx="1539.3" cy="990.2" r="9.3"/>
<circle cx="1549.2" cy="834.2" r="9.3"/>
<circle cx="1559.2" cy="1184.3" r="9.3"/>
<circle cx="1569.1" cy="1201.4" r="9.3"/>
<circle cx="1579.0" cy="1080.9" r="9.3"/>
<circle cx="1588.9" cy="1289.2" r="9.3"/>
<circle cx="1598.8" cy="907.6" r="9.3"/>
<circle cx="1608.8" cy="1144.8" r="9.3"/>
<circle cx="1618.7" cy="730.1" r="9.3"/>
<circle cx="1628.6" cy="803.2" r="9.3"/>
<circle cx="1638.5" cy="904.9" r="9.3"/>
<circle cx="1648.4" cy="608.5" r="9.3"/>
<circle cx="1658.3" cy="706.3" r="9.3"/>
<circle cx="1668.3" cy="612.1" r="9.3"/>
<circle cx="1678.2" cy="869.9" r="9.3"/>
<circle cx="1688.1" cy="571.1" r="9.3"/>
<circle cx="1698.0" cy="526.6" r="9.3"/>
<circle cx="1707.9" cy="552.0" r="9.3"/>
<circle cx="1717.9" cy="559.9" r="9.3"/>
<circle cx="1727.8" cy="436.7" r="9.3"/>
<circle cx="1737.7" cy="600.5" r="9.3"/>
<circle cx="1747.6" cy="404.1" r="9.3"/>
<circle cx="1757.5" cy="445.5" r="9.3"/>
<circle cx="1767.4" cy="505.9" r="9.3"/>
<circle cx="1777.4" cy="457.4" r="9.3"/>
<circle cx="1787.3" cy="439.9" r="9.3"/>
<circle cx="1797.2" cy="377.4" r="9.3"/>
</g>
<g id="frame" stroke="#000" fill="none">
<line x1="307" y1="60.5" x2="2050" y2="60.5" stroke-width="7"/>
<line x1="307" y1="1799.8" x2="2050" y2="1799.8" stroke-width="7.4"/>
<line x1="310.8" y1="57" x2="310.8" y2="1803.5" stroke-width="7.4"/>
<line x1="2041" y1="57" x2="2041" y2="1803.5" stroke-width="7"/>
</g>
<g id="legend">
<rect x="1299.2" y="1465.1" width="686.6" height="210.1" fill="#fff" stroke="#0a0a0a" stroke-width="5.2"/>
<circle cx="1418.5" cy="1531.2" r="9.6" fill="#000"/>
<line x1="1332" y1="1608.3" x2="1506" y2="1608.3" stroke="#0000d4" stroke-width="11"/>
<text x="1518.6" y="1557.2" style="letter-spacing:-0.15px">Measurement</text>
<text x="1520.6" y="1634.4" style="fill:#0000d4">Calculation</text>
</g>
<g id="xlabels" text-anchor="middle">
<text x="308.8" y="1890.5">35</text>
<text x="556.8" y="1890.5">40</text>
<text x="804.7" y="1890.5">45</text>
<text x="1052.6" y="1890.5">50</text>
<text x="1300.6" y="1890.5">55</text>
<text x="1548.5" y="1890.5">60</text>
<text x="1796.5" y="1890.5">65</text>
<text x="2044.5" y="1890.5">70</text>
</g>
<g id="ylabels" text-anchor="end">
<text x="268.5" y="85.3">1.2</text>
<text x="268.5" y="333.1">1</text>
<text x="268.5" y="580.9">0.8</text>
<text x="268.5" y="828.7">0.6</text>
<text x="268.5" y="1076.5">0.4</text>
<text x="268.5" y="1324.3">0.2</text>
<text x="268.5" y="1572.1">0</text>
<text x="268.5" y="1818.9">-0.2</text>
</g>
<text x="1160.2" y="1997.3" text-anchor="middle" style="letter-spacing:0.4px">f [GHz]</text>
<text transform="translate(104.5 916.5) rotate(-90)" text-anchor="middle" style="letter-spacing:0.25px">Reflected Wave {A.U.]</text>
</svg></body></html>
